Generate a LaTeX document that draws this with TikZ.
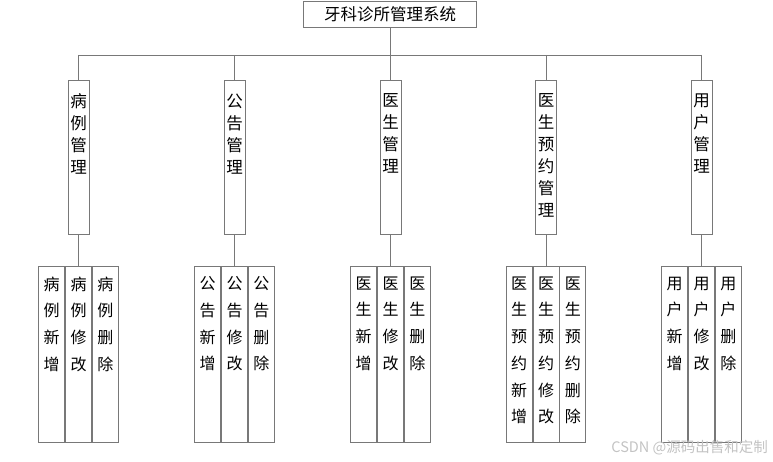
\documentclass[tikz,border=0pt]{standalone}
\usepackage{fontspec}
\newfontfamily\cjk{Noto Sans CJK SC}
\usepackage{xcolor}
\usetikzlibrary{positioning}
\definecolor{linegray}{RGB}{120,120,120}
\definecolor{markgray}{RGB}{195,195,195}

\tikzset{
    box/.style={draw=linegray, line width=0.9pt, inner sep=0pt},
    rootbox/.style={box, minimum width=173, minimum height=26, font=\cjk\fontsize{16.5}{18}\selectfont},
    midbox/.style={box, minimum width=21, minimum height=154},
    subbox/.style={box, minimum width=26, minimum height=176},
    midtext/.style={inner sep=0pt, align=center, font=\cjk\fontsize{16.5}{22}\selectfont},
    subtext/.style={inner sep=0pt, align=center, font=\cjk\fontsize{16}{26.7}\selectfont},
    link/.style={draw=linegray, line width=0.9pt}
}

\begin{document}
\begin{tikzpicture}[x=1pt, y=-1pt]
    \useasboundingbox (0,0) rectangle (773,462);

    % root
    \node[rootbox] (root) at (390,14) {牙科诊所管理系统};
    \coordinate (bus) at (390,55);
    \draw[link] (root.south) -- (bus);

    % five modules, each with add / edit / delete
    \foreach \i/\x/\pre/\tail in {1/78.5/{病\\例}/{管\\理},
                                  2/234.5/{公\\告}/{管\\理},
                                  3/390.5/{医\\生}/{管\\理},
                                  4/546/{医\\生}/{预\\约\\管\\理},
                                  5/701.5/{用\\户}/{管\\理}} {
        \node[midbox, anchor=north] (m\i) at (\x,80) {};
        \node[midtext, below=13.5pt of m\i.north] (mt\i) {\pre\\\tail};

        \node[subbox, anchor=north] (s\i b) at (\x,266) {};
        \node[subbox, left=0pt of s\i b] (s\i a) {};
        \node[subbox, right=0pt of s\i b] (s\i c) {};

        \draw[link] (m\i.north |- bus) -- (m\i.north);
        \draw[link] (m\i.south) -- (s\i b.north);
    }

    % sub labels (module 4 has the longer prefix)
    \foreach \i/\pre in {1/{病\\例}, 2/{公\\告}, 3/{医\\生}, 4/{医\\生\\预\\约}, 5/{用\\户}} {
        \node[subtext, below=10.5pt of s\i a.north] (sa\i) {\pre\\新\\增};
        \node[subtext, below=10.5pt of s\i b.north] (sb\i) {\pre\\修\\改};
        \node[subtext, below=10.5pt of s\i c.north] (sc\i) {\pre\\删\\除};
    }

    % bus line
    \draw[link] (m1.north |- bus) -- (m5.north |- bus);

    % watermark
    \node[text=markgray, font=\cjk\fontsize{14.5}{16}\selectfont, anchor=east, inner sep=0pt] (mark) at (768,448) {CSDN @源码出售和定制};
\end{tikzpicture}
\end{document}
